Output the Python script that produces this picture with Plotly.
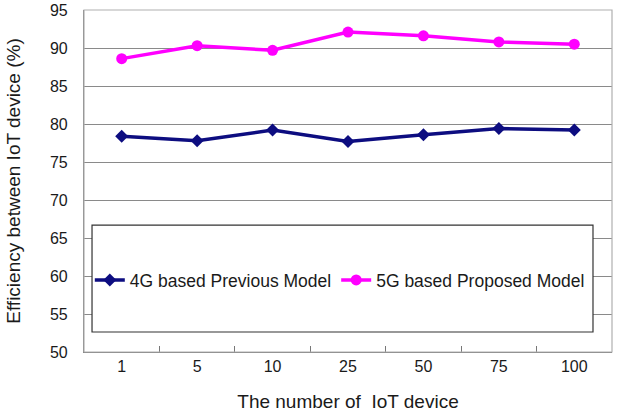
import plotly.graph_objects as go

categories = ["1", "5", "10", "25", "50", "75", "100"]
model_4g = [78.4, 77.8, 79.2, 77.7, 78.6, 79.4, 79.2]
model_5g = [88.6, 90.3, 89.7, 92.1, 91.6, 90.8, 90.5]
y_ticks = [50, 55, 60, 65, 70, 75, 80, 85, 90, 95]

FONT = "Liberation Sans, Arial, sans-serif"

fig = go.Figure()
fig.add_trace(go.Scatter(
    x=categories, y=model_4g, mode="lines+markers",
    name="4G based Previous Model",
    line=dict(color="#0d0d80", width=3.5),
    marker=dict(symbol="diamond", size=10, color="#0d0d80"),
))
fig.add_trace(go.Scatter(
    x=categories, y=model_5g, mode="lines+markers",
    name="5G based Proposed Model",
    line=dict(color="#ff00ff", width=3.5),
    marker=dict(symbol="circle", size=11, color="#ff00ff"),
))

# legend frame (large box inside plot area)
fig.add_shape(type="rect", xref="paper", yref="paper",
              x0=0.0152, x1=0.964, y0=0.0585, y1=0.371,
              line=dict(color="#333333", width=1.2), fillcolor="white",
              layer="above")
# light outer frame (top/right)
fig.add_shape(type="rect", xref="paper", yref="paper",
              x0=0, x1=1, y0=0, y1=1,
              line=dict(color="#b0b0b0", width=1.2), layer="above")

fig.update_layout(
    width=622, height=414,
    margin=dict(l=84, r=10, t=10, b=62),
    paper_bgcolor="white", plot_bgcolor="white",
    font=dict(family=FONT, color="#222222"),
    showlegend=True,
    legend=dict(orientation="h", x=0.011, xanchor="left",
                y=0.2105, yanchor="middle",
                bgcolor="rgba(0,0,0,0)", borderwidth=0,
                font=dict(size=17.5, family=FONT, color="#1a1a1a"),
                itemwidth=30),
    xaxis=dict(
        type="category", range=[-0.5, 6.5], automargin=False,
        tickson="boundaries", ticks="inside", ticklen=6, tickcolor="#777777",
        showgrid=False, showline=True, linecolor="#777777", linewidth=1.2,
        tickfont=dict(size=16, family=FONT, color="#1a1a1a"),
        title=dict(text="The number of \u00a0IoT device",
                   font=dict(size=19, family=FONT, color="#1a1a1a"), standoff=20),
    ),
    yaxis=dict(
        range=[50, 95], tickvals=y_ticks, automargin=False,
        showgrid=True, gridcolor="#8a8a8a", gridwidth=1.2,
        showline=True, linecolor="#777777", linewidth=1.2,
        ticks="", ticklabelstandoff=12, zeroline=False,
        tickfont=dict(size=16, family=FONT, color="#1a1a1a"),
        title=dict(text="Efficiency between IoT device (%)",
                   font=dict(size=19, family=FONT, color="#1a1a1a"), standoff=24),
    ),
)

fig.write_html("out.html")
